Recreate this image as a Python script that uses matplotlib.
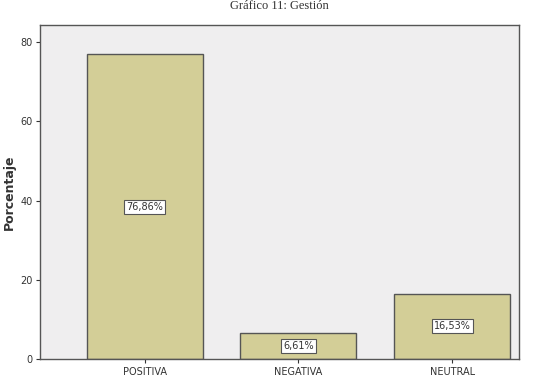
import numpy as np
import matplotlib.pyplot as plt

categories = ["POSITIVA", "NEGATIVA", "NEUTRAL"]
values = [76.86, 6.61, 16.53]
labels = ["76,86%", "6,61%", "16,53%"]

fig = plt.figure(figsize=(5.59, 3.92), dpi=100)
ax = fig.add_axes([39.5 / 559, 1 - 359 / 392, 479.5 / 559, 334 / 392])
ax.set_facecolor("#efeeef")

x = np.arange(len(categories))
ax.bar(x, values, width=0.754, color="#d3ce97", edgecolor="#555555", linewidth=1.0)

for xi, v, lab in zip(x, values, labels):
    ax.text(xi, v / 2, lab, ha="center", va="center", fontsize=7, color="#333333",
            bbox=dict(boxstyle="square,pad=0.2", facecolor="white", edgecolor="#555555", linewidth=0.8))

ax.set_xlim(-0.684, 2.434)
ax.set_ylim(0, 84.3)
ax.set_yticks([0, 20, 40, 60, 80])
ax.set_xticks(x)
ax.set_xticklabels(categories)
ax.tick_params(labelsize=7, colors="#333333", length=3, width=0.8)
ax.tick_params(axis="x", pad=3)
ax.tick_params(axis="y", pad=2)
for s in ax.spines.values():
    s.set_color("#555555")
    s.set_linewidth(1.0)

ax.set_ylabel("Porcentaje", fontsize=9, fontweight="bold", color="#333333")
ax.yaxis.set_label_coords(-0.05, 0.5)

fig.text(0.5, 0.999, "Gráfico 11: Gestión", ha="center", va="top", fontsize=9,
         family="Liberation Serif", color="#333333")

fig.savefig("out.png", dpi=100)
